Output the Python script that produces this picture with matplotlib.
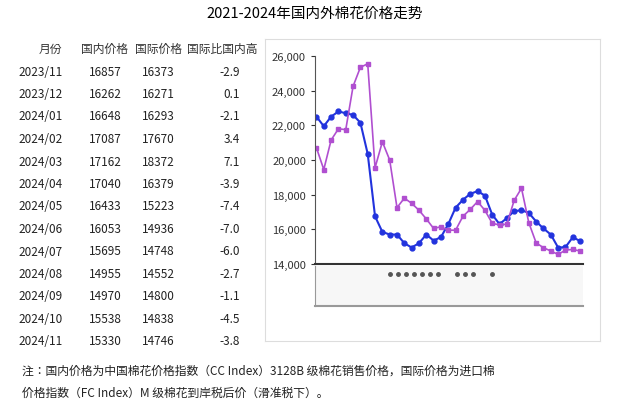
import matplotlib
matplotlib.use("Agg")
import matplotlib.pyplot as plt
from matplotlib.ticker import FuncFormatter
from matplotlib import font_manager

names = {f.name for f in font_manager.fontManager.ttflist}
cjk = [n for n in ["Noto Sans CJK SC", "Noto Sans CJK JP", "Noto Sans CJK TC",
                   "Noto Sans CJK KR", "Noto Sans SC"] if n in names]
plt.rcParams["font.family"] = cjk + ["DejaVu Sans"]

months = ["2023/11","2023/12","2024/01","2024/02","2024/03","2024/04","2024/05",
          "2024/06","2024/07","2024/08","2024/09","2024/10","2024/11"]
dom = [16857,16262,16648,17087,17162,17040,16433,16053,15695,14955,14970,15538,15330]
intl = [16373,16271,16293,17670,18372,16379,15223,14936,14748,14552,14800,14838,14746]
diff = [-2.9,0.1,-2.1,3.4,7.1,-3.9,-7.4,-7.0,-6.0,-2.7,-1.1,-4.5,-3.8]

blue = [22500,21950,22500,22800,22700,22600,22150,20350,16750,15850,15700,15700,15200,
        14950,15200,15700,15350,15550,16300,17250,17700,18050,18200,17950,16850,16300,
        16650,17050,17100,16950,16450,16050,15700,14950,14970,15540,15330]
purple = [20700,19450,21150,21800,21750,24250,25350,25550,19550,21050,20000,17250,17800,
          17500,17100,16600,16050,16150,15950,15950,16750,17150,17600,17100,16350,16250,
          16300,17670,18370,16380,15220,14940,14750,14550,14800,14840,14750]

W, H = 630, 406
fig = plt.figure(figsize=(W/100, H/100), dpi=100)
fig.patch.set_facecolor("white")

def t(x, y, s, **kw):
    fig.text(x/W, 1-y/H, s, **kw)

t(315, 14, "2021-2024年国内外棉花价格走势", ha="center", va="center", fontsize=10.5)

hx = [50, 105, 158, 222]
for x, s in zip(hx, ["月份","国内价格","国际价格","国际比国内高"]):
    t(x, 49, s, ha="center", va="center", fontsize=8.5, color="#333")
for i in range(len(months)):
    y = 72 + i*22.5
    t(18, y, months[i], ha="left", va="center", fontsize=8.5, color="#222")
    t(105, y, str(dom[i]), ha="center", va="center", fontsize=8.5, color="#222")
    t(158, y, str(intl[i]), ha="center", va="center", fontsize=8.5, color="#222")
    t(240, y, f"{diff[i]:.1f}", ha="right", va="center", fontsize=8.5, color="#222")

frame = fig.add_axes([265/W, 1-342/H, 335/W, 302/H])
frame.set_xticks([]); frame.set_yticks([])
for s in frame.spines.values():
    s.set_color("#ddd")
frame.patch.set_alpha(0)

ax = fig.add_axes([315/W, 1-265/H, 268/W, 208/H])
x = range(len(blue))
ax.plot(x, blue, color="#2233dd", marker="o", ms=3.5, lw=1.5)
ax.plot(x, purple, color="#b04fd0", marker="s", ms=3.5, lw=1.2)
ax.set_ylim(14000, 26000)
ax.set_xlim(-0.2, len(blue)-0.6)
ax.set_yticks(range(14000, 26001, 2000))
ax.yaxis.set_major_formatter(FuncFormatter(lambda v, p: f"{int(v):,}"))
ax.tick_params(axis="y", labelsize=8, length=3, colors="#333")
ax.set_xticks([])
for s in ["top", "right"]:
    ax.spines[s].set_visible(False)
ax.spines["bottom"].set_linewidth(1.5)
ax.spines["bottom"].set_color("#333")
ax.spines["left"].set_color("#555")

lo = fig.add_axes([315/W, 1-307/H, 268/W, 40/H])
lo.set_xticks([]); lo.set_yticks([])
for s in ["top", "right"]:
    lo.spines[s].set_visible(False)
lo.spines["left"].set_color("#999")
lo.spines["bottom"].set_color("#999")
lo.spines["bottom"].set_linewidth(1.5)
lo.patch.set_facecolor("#f7f7f7")
lo.plot([0.28,0.31,0.34,0.37,0.40,0.43,0.46,0.53,0.56,0.59,0.66],
        [0.8]*11, "o", color="#555", ms=2.5)
lo.set_xlim(0, 1); lo.set_ylim(0, 1)

t(22, 371, "注：国内价格为中国棉花价格指数（CC Index）3128B 级棉花销售价格，国际价格为进口棉",
  ha="left", va="center", fontsize=8.5, color="#222")
t(22, 393, "价格指数（FC Index）M 级棉花到岸税后价（滑准税下）。",
  ha="left", va="center", fontsize=8.5, color="#222")

fig.savefig("out.png", dpi=100)
